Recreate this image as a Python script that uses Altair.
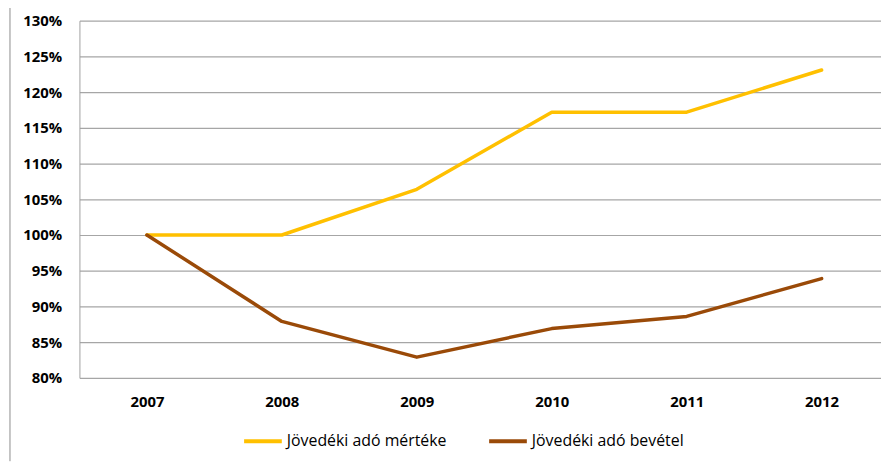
import altair as alt
import pandas as pd

years = [2007, 2008, 2009, 2010, 2011, 2012]
mertek = [1.000, 1.000, 1.064, 1.172, 1.172, 1.231]
bevetel = [1.000, 0.879, 0.829, 0.869, 0.886, 0.939]
series_names = ["Jövedéki adó mértéke", "Jövedéki adó bevétel"]
colors = ["#FFC000", "#9A4A08"]
y_ticks = [0.80, 0.85, 0.90, 0.95, 1.00, 1.05, 1.10, 1.15, 1.20, 1.25, 1.30]

rows = []
for name, vals in zip(series_names, [mertek, bevetel]):
    for yr, v in zip(years, vals):
        rows.append({"year": yr, "value": v, "series": name})
df = pd.DataFrame(rows)

FONT = "Open Sans"

lines = alt.Chart(df).mark_line(strokeWidth=3.5, strokeCap="round", strokeJoin="round").encode(
    x=alt.X("year:Q", title=None,
            scale=alt.Scale(domain=[2006.5, 2012.44], nice=False, zero=False),
            axis=alt.Axis(values=years, format="d", grid=False, labelAngle=0, labelFont=FONT,
                          labelFontSize=15, labelFontWeight="bold", labelColor="#000000",
                          domain=False, ticks=False, labelPadding=17, labelFlush=False)),
    y=alt.Y("value:Q", title=None,
            scale=alt.Scale(domain=[0.8, 1.3], nice=False, zero=False),
            axis=alt.Axis(values=y_ticks, format=".0%", labelFont=FONT, labelFontSize=15,
                          labelFontWeight="bold", labelColor="#000000", ticks=False,
                          domainColor="#A0A0A0", gridColor="#A6A6A6", gridWidth=1.2,
                          labelPadding=18)),
    color=alt.Color("series:N", sort=series_names,
                    scale=alt.Scale(domain=series_names, range=colors),
                    legend=alt.Legend(title=None, orient="none", legendX=164, legendY=403,
                                      direction="horizontal", symbolType="stroke",
                                      symbolStrokeWidth=4, symbolSize=1444,
                                      labelFont=FONT, labelFontSize=16, labelColor="#000000",
                                      labelLimit=400, columnPadding=34, labelOffset=3)),
)

border = alt.Chart(pd.DataFrame({"a": [0]})).mark_rule(color="#8C8C8C", strokeWidth=1).encode(
    x=alt.value(-70), y=alt.value(-19), y2=alt.value(444)
)

chart = alt.layer(lines, border).properties(
    width=808, height=360,
    padding={"left": 72, "top": 11, "right": 0, "bottom": 84},
    autosize=alt.AutoSizeParams(type="none"),
).configure_view(stroke=None)

chart.save("out.html", embed_options={"renderer": "svg", "actions": False})
